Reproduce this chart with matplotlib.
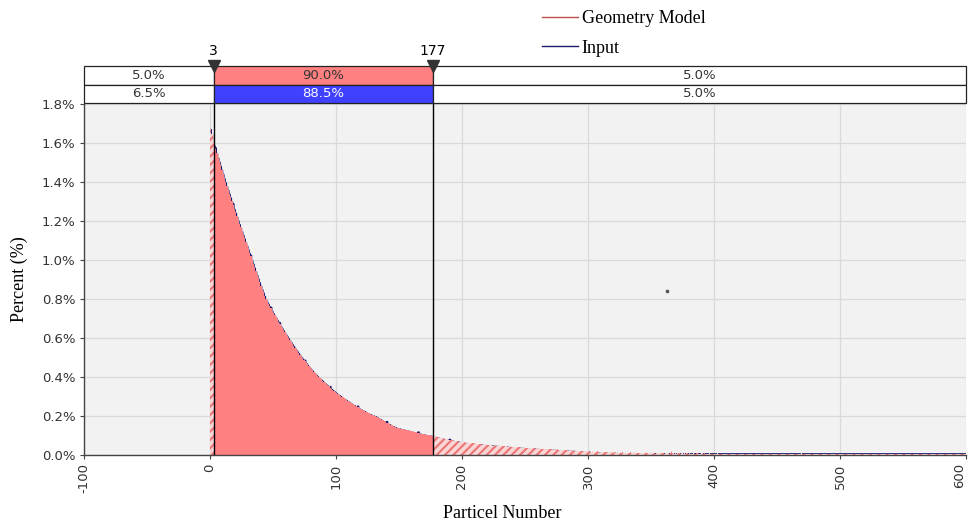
import numpy as np
import matplotlib
matplotlib.use("Agg")
import matplotlib.pyplot as plt
from matplotlib.patches import Rectangle
from matplotlib.lines import Line2D

# ---------------- data (percent values in thousandths of a percent, bins of width 1 from 0) ----------------
geometry_milli = [
    1673, 1645, 1618, 1590, 1569, 1548, 1527, 1506, 1485, 1464,
    1443, 1421, 1400, 1380, 1361, 1341, 1322, 1302, 1283, 1263,
    1244, 1224, 1205, 1186, 1168, 1149, 1130, 1112, 1093, 1075,
    1056, 1037, 1019, 1000, 982, 963, 944, 925, 906, 887,
    869, 852, 835, 817, 800, 788, 776, 764, 752, 740,
    728, 717, 706, 695, 684, 673, 662, 651, 641, 631,
    620, 610, 600, 590, 580, 570, 561, 551, 542, 533,
    524, 515, 506, 497, 489, 481, 473, 465, 457, 449,
    441, 434, 427, 420, 413, 406, 400, 394, 388, 382,
    376, 370, 364, 358, 352, 346, 340, 335, 330, 325,
    319, 314, 309, 305, 300, 296, 291, 287, 282, 278,
    274, 270, 265, 261, 257, 253, 249, 245, 241, 237,
    234, 230, 227, 223, 220, 216, 213, 210, 207, 204,
    202, 200, 196, 192, 188, 184, 181, 177, 173, 170,
    166, 163, 159, 156, 152, 149, 146, 143, 140, 138,
    137, 135, 134, 132, 130, 129, 127, 126, 124, 122,
    121, 119, 118, 116, 114, 113, 111, 110, 108, 107,
    106, 104, 103, 102, 101, 100, 99, 98, 96, 94,
    92, 90, 88, 87, 85, 84, 82, 81, 80, 78,
    77, 76, 75, 73, 72, 71, 70, 69, 68, 67,
    66, 67, 63, 64, 62, 63, 61, 62, 59, 59,
    58, 59, 56, 57, 55, 56, 53, 54, 52, 53,
    51, 52, 49, 51, 48, 50, 47, 48, 46, 48,
    45, 47, 44, 46, 44, 45, 43, 44, 42, 43,
    41, 43, 40, 41, 39, 41, 38, 40, 37, 39,
    36, 38, 35, 37, 34, 36, 34, 35, 33, 35,
    32, 34, 31, 33, 31, 32, 30, 32, 29, 31,
    29, 30, 28, 29, 27, 29, 26, 28, 25, 27,
    25, 26, 24, 26, 23, 25, 22, 24, 22, 23,
    21, 23, 20, 22, 20, 21, 19, 21, 19, 20,
    20, 17, 15, 18, 14, 16, 13, 19, 15, 12, 16, 14, 11, 15, 13, 17, 12, 14, 22, 13,
    12, 15, 11, 14, 10, 13, 12, 16, 11, 13, 10, 12, 9, 14, 11, 10, 13, 9, 12, 10,
    9, 12, 8, 11, 10, 14, 9, 8, 11, 9, 12, 8, 10, 7, 11, 9, 8, 13, 8, 10,
    7, 9, 8, 11, 7, 9, 18, 8, 7, 10, 6, 9, 8, 7, 10, 6, 8, 7, 9, 6,
    8, 7, 6, 9, 7, 6, 8, 5, 7, 6, 9, 5, 8, 6, 7, 5, 8, 6, 5, 7,
    6, 5, 8, 4, 6, 7, 5, 6, 4, 7, 5, 6, 5, 4, 7, 5, 6, 4, 5, 6,
    4, 6, 5, 4, 6, 5, 4, 7, 5, 4, 6, 4, 5, 4, 6, 5, 4, 5, 4, 6,
    5, 4, 3, 6, 4, 5, 3, 4, 5, 4, 3, 5, 4, 6, 3, 4, 5, 3, 4, 5,
    4, 3, 5, 4, 3, 4, 5, 3, 4, 8, 3, 4, 5, 3, 4, 3, 5, 4, 3, 4,
    3, 5, 4, 3, 4, 3, 5, 3, 4, 3, 4, 5, 3, 4, 3, 4, 3, 5, 4, 3,
    4, 3, 4, 3, 5, 3, 4, 3, 4, 3, 3, 5, 4, 3, 4, 3, 4, 3, 5, 3,
    3, 4, 3, 4, 3, 5, 3, 4, 3, 3, 4, 3, 5, 3, 4, 3, 3, 4, 3, 4,
    3, 4, 3, 3, 5, 3, 4, 3, 3, 4, 3, 4, 3, 3, 4, 3, 5, 3, 3, 4,
    3, 3, 4, 3, 4, 3, 3, 4, 3, 3, 4, 3, 3, 4, 3, 3, 4, 3, 3, 4,
    3, 4, 3, 3, 4, 3, 3, 4, 3, 5, 3, 3, 4, 3, 3, 4, 3, 3, 4, 3,
]

input_milli = [
    1669, 1641, 1614, 1586, 1575, 1544, 1523, 1502, 1481, 1460,
    1439, 1417, 1396, 1376, 1357, 1337, 1318, 1298, 1288, 1259,
    1240, 1220, 1201, 1182, 1164, 1145, 1126, 1108, 1089, 1071,
    1052, 1033, 1024, 996, 978, 959, 940, 921, 902, 883,
    865, 848, 831, 813, 796, 784, 772, 760, 757, 736,
    724, 713, 702, 691, 680, 678, 658, 647, 637, 627,
    616, 606, 596, 586, 576, 566, 557, 547, 538, 529,
    520, 511, 502, 493, 485, 486, 469, 461, 453, 445,
    437, 430, 423, 416, 409, 402, 396, 390, 384, 378,
    372, 366, 360, 354, 348, 351, 336, 331, 326, 321,
    315, 310, 305, 301, 296, 292, 287, 283, 278, 274,
    270, 266, 261, 257, 253, 249, 245, 250, 237, 233,
    230, 226, 223, 219, 216, 212, 209, 206, 203, 200,
    198, 196, 192, 188, 184, 180, 177, 173, 169, 166,
    171, 159, 155, 152, 148, 145, 142, 139, 136, 134,
    133, 131, 130, 128, 126, 125, 123, 122, 120, 118,
    117, 115, 114, 112, 110, 118, 107, 106, 104, 103,
    102, 100, 99, 98, 97, 96, 95, 94, 92, 90,
    88, 86, 84, 83, 81, 80, 78, 77, 76, 74,
    80, 72, 71, 69, 68, 67, 66, 65, 64, 63,
    61, 60, 59, 59, 58, 58, 57, 57, 55, 54,
    53, 53, 52, 52, 51, 51, 50, 50, 48, 48,
    47, 47, 46, 46, 45, 45, 44, 44, 43, 43,
    42, 42, 41, 41, 40, 40, 39, 39, 38, 38,
    37, 37, 36, 36, 35, 35, 34, 34, 33, 33,
    32, 32, 31, 31, 30, 30, 30, 30, 29, 29,
    28, 28, 27, 27, 27, 27, 26, 26, 25, 25,
    25, 25, 24, 24, 23, 23, 22, 22, 21, 21,
    21, 21, 20, 20, 19, 19, 18, 18, 18, 18,
    17, 17, 16, 16, 16, 16, 15, 15, 15, 15,
    15, 13, 11, 11, 10, 10, 9, 9, 9, 8, 8, 8, 7, 7, 7, 7, 7, 7, 7, 7,
    7, 7, 7, 7, 6, 6, 6, 6, 6, 6, 6, 6, 6, 6, 6, 6, 6, 6, 6, 6,
    6, 6, 5, 6, 6, 6, 5, 6, 6, 6, 6, 5, 6, 6, 6, 5, 6, 6, 6, 6,
    6, 5, 6, 6, 6, 6, 5, 6, 6, 6, 5, 6, 6, 6, 6, 6, 5, 6, 6, 6,
    6, 6, 6, 5, 6, 6, 6, 6, 5, 6, 6, 6, 6, 5, 6, 6, 6, 6, 6, 5,
    6, 6, 5, 6, 6, 6, 6, 5, 6, 6, 6, 6, 6, 6, 5, 6, 6, 6, 6, 6,
    5, 6, 6, 6, 6, 5, 6, 6, 6, 6, 6, 5, 6, 6, 6, 6, 5, 6, 6, 6,
    6, 6, 5, 6, 6, 6, 6, 6, 5, 6, 6, 6, 6, 5, 6, 6, 6, 6, 6, 6,
    5, 6, 6, 6, 6, 6, 5, 6, 6, 6, 6, 6, 5, 6, 6, 6, 6, 5, 6, 6,
    6, 6, 6, 5, 6, 6, 6, 6, 6, 5, 6, 6, 6, 6, 6, 5, 6, 6, 6, 6,
    6, 5, 6, 6, 6, 6, 6, 5, 6, 6, 6, 6, 6, 6, 5, 6, 6, 6, 6, 6,
    5, 6, 6, 6, 6, 6, 6, 5, 6, 6, 6, 6, 6, 5, 6, 6, 6, 6, 6, 6,
    6, 6, 5, 6, 6, 6, 6, 6, 6, 5, 6, 6, 6, 6, 6, 6, 5, 6, 6, 6,
    6, 6, 6, 6, 5, 6, 6, 6, 6, 6, 6, 5, 6, 6, 6, 6, 6, 6, 5, 6,
    6, 5, 6, 6, 6, 6, 6, 6, 5, 6, 6, 6, 6, 6, 6, 5, 6, 6, 6, 6,
]

input_outlier_x = [363]
input_outlier_pct = [0.84]

cut_points = [3, 177]
geometry_shares = ["5.0%", "90.0%", "5.0%"]
input_shares = ["6.5%", "88.5%", "5.0%"]
series_names = ["Geometry Model", "Input"]
x_ticks = [-100, 0, 100, 200, 300, 400, 500, 600]
y_ticks = [0.0, 0.2, 0.4, 0.6, 0.8, 1.0, 1.2, 1.4, 1.6, 1.8]

# ---------------- style ----------------
RED = "#FF8080"
HATCH_RED = "#EC7474"
HATCH_FACE = "#F9D6D6"
BLUE_CELL = "#4040FF"
NAVY = "#1C1C70"
SERIF = "Liberation Serif"
SANS = "DejaVu Sans"
plt.rcParams["hatch.linewidth"] = 1.5

geo = np.array(geometry_milli) / 1000.0
inp = np.array(input_milli) / 1000.0
edges = np.arange(len(geo) + 1)
lo, hi = cut_points

W, H = 969, 524
fig = plt.figure(figsize=(W / 100, H / 100), dpi=100, facecolor="white")
ax_l, ax_r, ax_b, ax_t = 84, 966, 455, 104
ax = fig.add_axes([ax_l / W, 1 - ax_b / H, (ax_r - ax_l) / W, (ax_b - ax_t) / H])
ax.set_facecolor("#F2F2F2")
ax.set_xlim(-100, 600)
ax.set_ylim(0, 1.8)
ax.set_axisbelow(True)
ax.grid(True, color="#DADADA", lw=0.9)

# input series as step outline (underneath)
ax.stairs(inp, edges, baseline=None, color=NAVY, lw=1.0, zorder=1.5)
ax.plot(input_outlier_x, input_outlier_pct, "s", ms=1.6, color="#555555", zorder=3)

# geometry model fills
ax.stairs(geo[:lo], edges[:lo + 1], fill=True, facecolor=HATCH_FACE, edgecolor=HATCH_RED,
          hatch="////", linewidth=0, zorder=2)
ax.stairs(geo[lo:hi], edges[lo:hi + 1], fill=True, facecolor=RED, edgecolor=RED,
          linewidth=0, zorder=2)
ax.stairs(geo[hi:], edges[hi:], fill=True, facecolor=HATCH_FACE, edgecolor=HATCH_RED,
          hatch="////", linewidth=0, zorder=2)

for c in cut_points:
    ax.axvline(c, color="black", lw=1.0, zorder=4)

for s in ["top", "right"]:
    ax.spines[s].set_visible(False)
for s in ["left", "bottom"]:
    ax.spines[s].set_color("#444444")
    ax.spines[s].set_linewidth(1.0)

ax.set_xticks(x_ticks)
xtl = ax.set_xticklabels([str(t) for t in x_ticks], rotation=90, fontsize=9.5,
                         family=SANS, color="#333333")
xtl[-1].set_horizontalalignment("right")
ax.set_yticks(y_ticks)
ax.set_yticklabels([f"{t:.1f}%" for t in y_ticks], fontsize=9.5, family=SANS, color="#333333")
ax.tick_params(axis="both", length=3, color="#444444", pad=3)

ax.set_xlabel("Particel Number", family=SERIF, fontsize=13)
ax.xaxis.set_label_coords((502 - ax_l) / (ax_r - ax_l), -(505 - ax_b) / (ax_b - ax_t))
ax.set_ylabel("Percent (%)", family=SERIF, fontsize=13)
ax.yaxis.set_label_coords(-(ax_l - 28) / (ax_r - ax_l), 0.5)

# ---------------- percentage table above ----------------
tb_top, tb_bot = 66, 103
axt = fig.add_axes([ax_l / W, 1 - tb_bot / H, (ax_r - ax_l) / W, (tb_bot - tb_top) / H])
axt.set_xlim(-100, 600)
axt.set_ylim(0, 2)
axt.axis("off")
bounds = [-100, lo, hi, 600]
rows = [(1, geometry_shares, [None, RED, None], "#333333"),
        (0, input_shares, [None, BLUE_CELL, None], "white")]
for y0, labels, fills, mid_tc in rows:
    for k in range(3):
        x0, x1 = bounds[k], bounds[k + 1]
        fc = fills[k] if fills[k] else "white"
        axt.add_patch(Rectangle((x0, y0), x1 - x0, 1, facecolor=fc, edgecolor="#222222",
                                lw=0.9, clip_on=False))
        tc = mid_tc if k == 1 else "#333333"
        axt.text((x0 + x1) / 2, y0 + 0.5, labels[k], ha="center", va="center",
                 fontsize=9.5, family=SANS, color=tc)

for c in cut_points:
    axt.plot([c], [2], marker="v", ms=8, color="#333333", clip_on=False, zorder=5)
    axt.annotate(str(c), (c, 2), xytext=(0, 6), textcoords="offset points",
                 ha="center", va="bottom", fontsize=10, family=SANS, color="black")

# ---------------- legend ----------------
handles = [Line2D([0], [0], color="#C0504D", lw=1.0),
           Line2D([0], [0], color=NAVY, lw=1.0)]
fig.legend(handles, series_names, loc="upper left", bbox_to_anchor=(542 / W, 1 - 10 / H),
           frameon=False, prop={"family": SERIF, "size": 13}, handlelength=2.0,
           handletextpad=0.2, labelspacing=0.7, borderpad=0, borderaxespad=0)

fig.savefig("out.png", dpi=100, facecolor="white")
